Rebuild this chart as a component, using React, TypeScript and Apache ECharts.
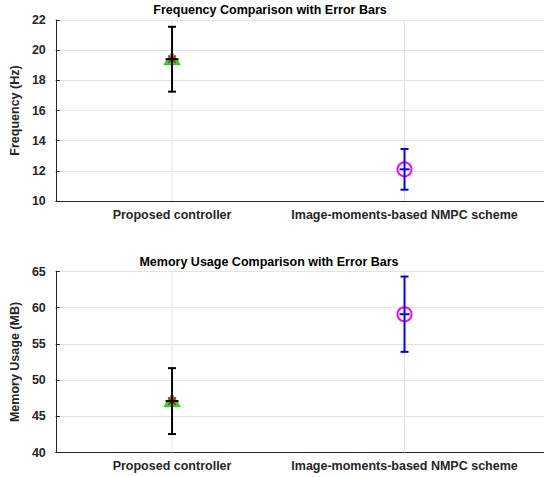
import React, { useEffect, useRef } from 'react';
import * as echarts from 'echarts';

const categories = ['Proposed controller', 'Image-moments-based NMPC scheme'];
const categoryPos = [1, 2];
const freqMean = [19.4, 12.1];
const freqErr = [2.15, 1.35];
const memMean = [47.1, 59.1];
const memErr = [4.55, 5.2];
const freqTicks = [10, 12, 14, 16, 18, 20, 22];
const memTicks = [40, 45, 50, 55, 60, 65];

const FONT = 'Liberation Sans, Arial, Helvetica, sans-serif';
const GRID_COLOR = '#e3e3e3';
const AXIS_COLOR = '#262626';

function renderItem(params: any, api: any) {
  const i = params.dataIndex;
  const x = api.value(0);
  const m = api.value(1);
  const e = api.value(2);
  const c = api.coord([x, m]);
  const t = api.coord([x, m + e]);
  const b = api.coord([x, m - e]);
  const cs = params.coordSys;
  const children: any[] = [];
  children.push({
    type: 'line',
    shape: { x1: c[0], y1: cs.y, x2: c[0], y2: cs.y + cs.height },
    style: { stroke: GRID_COLOR, lineWidth: 1 },
  });
  const col = i === 0 ? '#000000' : '#0000ff';
  const capW = 4;
  if (i === 0) {
    children.push({
      type: 'polygon',
      shape: { points: [[c[0], c[1] - 7.5], [c[0] - 8, c[1] + 5.5], [c[0] + 8, c[1] + 5.5]] },
      style: { fill: '#00ff00', stroke: '#1a8a1a', lineWidth: 0.6 },
    });
    const r = 5;
    const d = r * 0.75;
    [[-d, -d, d, d], [-d, d, d, -d], [0, -r, 0, r], [-r, 0, r, 0]].forEach((s) => {
      children.push({
        type: 'line',
        shape: { x1: c[0] + s[0], y1: c[1] + s[1], x2: c[0] + s[2], y2: c[1] + s[3] },
        style: { stroke: '#ff0000', lineWidth: 1.6 },
      });
    });
  } else {
    children.push({
      type: 'circle',
      shape: { cx: c[0], cy: c[1], r: 7 },
      style: { fill: 'none', stroke: '#ff00ff', lineWidth: 2 },
    });
  }
  children.push({
    type: 'line',
    shape: { x1: c[0], y1: t[1], x2: c[0], y2: b[1] },
    style: { stroke: col, lineWidth: 2 },
  });
  children.push({
    type: 'line',
    shape: { x1: c[0] - capW, y1: t[1], x2: c[0] + capW, y2: t[1] },
    style: { stroke: col, lineWidth: 2 },
  });
  children.push({
    type: 'line',
    shape: { x1: c[0] - capW, y1: b[1], x2: c[0] + capW, y2: b[1] },
    style: { stroke: col, lineWidth: 2 },
  });
  const pw = i === 0 ? 6.5 : 5;
  children.push({
    type: 'line',
    shape: { x1: c[0] - pw, y1: c[1], x2: c[0] + pw, y2: c[1] },
    style: { stroke: col, lineWidth: 2 },
  });
  return { type: 'group', children };
}

function makeX(gridIndex: number) {
  return {
    type: 'value',
    gridIndex,
    min: 0.5,
    max: 2.6,
    interval: 0.5,
    axisLine: { show: true, lineStyle: { color: AXIS_COLOR, width: 1 } },
    axisTick: { show: false },
    splitLine: { show: false },
    axisLabel: {
      showMaxLabel: false,
      margin: 7,
      fontFamily: FONT,
      fontWeight: 'bold',
      fontSize: 12.5,
      color: AXIS_COLOR,
      formatter: (v: number) => {
        const k = categoryPos.indexOf(v);
        return k >= 0 ? categories[k] : '';
      },
    },
  };
}

function makeY(gridIndex: number, ticks: number[], name: string) {
  return {
    type: 'value',
    gridIndex,
    min: ticks[0],
    max: ticks[ticks.length - 1],
    interval: ticks[1] - ticks[0],
    name,
    nameLocation: 'middle',
    nameGap: 26,
    nameRotate: 90,
    nameTextStyle: { fontFamily: FONT, fontWeight: 'bold', fontSize: 12.5, color: AXIS_COLOR },
    axisLine: { show: true, lineStyle: { color: AXIS_COLOR, width: 1 } },
    axisTick: { show: true, inside: true, length: 4, lineStyle: { color: AXIS_COLOR } },
    splitLine: { show: true, lineStyle: { color: GRID_COLOR, width: 1 } },
    axisLabel: {
      margin: 10,
      fontFamily: FONT,
      fontWeight: 'bold',
      fontSize: 12.5,
      color: AXIS_COLOR,
    },
  };
}

export default function App() {
  const ref = useRef<HTMLDivElement>(null);
  useEffect(() => {
    if (!ref.current) return;
    const chart = echarts.init(ref.current, null, { renderer: 'svg' });
    const freqData = categoryPos.map((p, i) => [p, freqMean[i], freqErr[i]]);
    const memData = categoryPos.map((p, i) => [p, memMean[i], memErr[i]]);
    chart.setOption({
      animation: false,
      backgroundColor: '#ffffff',
      grid: [
        { left: 53, top: 20, width: 500, height: 181 },
        { left: 53, top: 271.5, width: 500, height: 181 },
      ],
      xAxis: [makeX(0), makeX(1)],
      yAxis: [
        makeY(0, freqTicks, 'Frequency (Hz)'),
        makeY(1, memTicks, 'Memory Usage (MB)'),
      ],
      graphic: [
        {
          type: 'text',
          x: 270,
          y: 10,
          style: {
            text: 'Frequency Comparison with Error Bars',
            font: `bold 12.5px ${FONT}`,
            fill: '#000000',
            textAlign: 'center',
            textVerticalAlign: 'middle',
          },
        },
        {
          type: 'text',
          x: 269,
          y: 262,
          style: {
            text: 'Memory Usage Comparison with Error Bars',
            font: `bold 12.5px ${FONT}`,
            fill: '#000000',
            textAlign: 'center',
            textVerticalAlign: 'middle',
          },
        },
      ],
      series: [
        {
          type: 'custom',
          xAxisIndex: 0,
          yAxisIndex: 0,
          data: freqData,
          renderItem,
          clip: false,
          encode: { x: 0, y: 1 },
        },
        {
          type: 'custom',
          xAxisIndex: 1,
          yAxisIndex: 1,
          data: memData,
          renderItem,
          clip: false,
          encode: { x: 0, y: 1 },
        },
      ],
    });
    return () => chart.dispose();
  }, []);
  return (
    <div
      ref={ref}
      style={{ position: 'absolute', left: 0, top: 0, width: 544, height: 477 }}
    />
  );
}
